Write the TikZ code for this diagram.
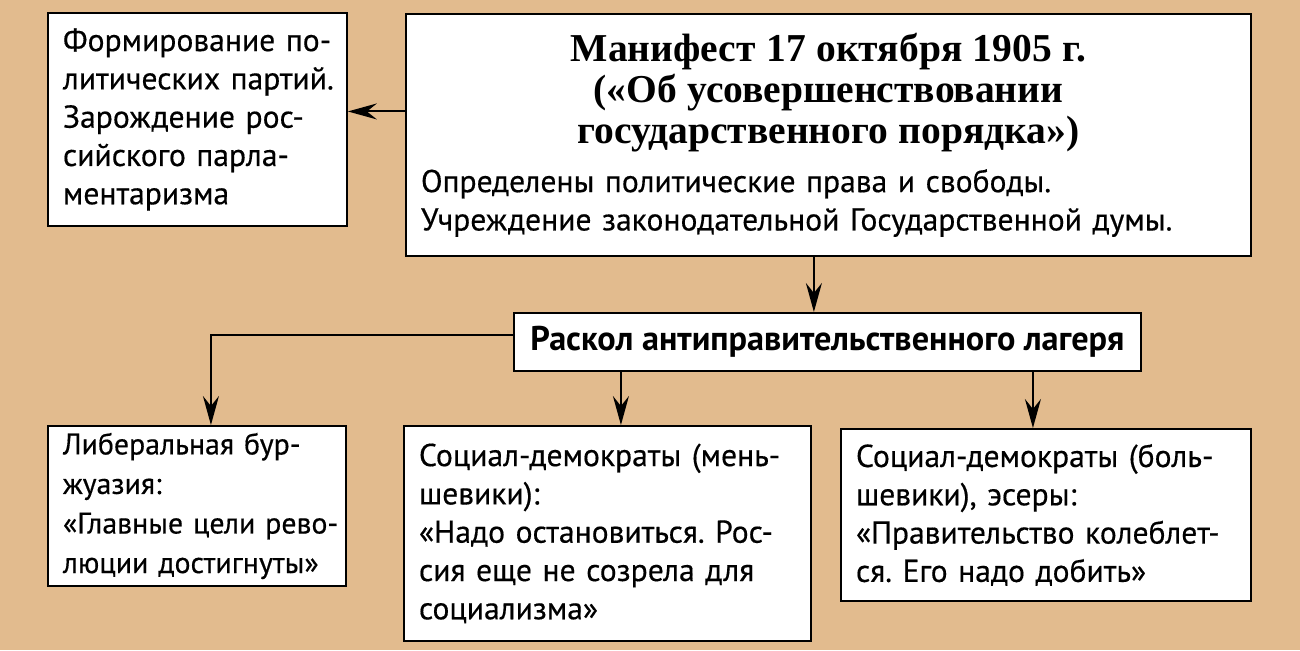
\documentclass[tikz,border=0pt]{standalone}
\usepackage{fontspec}
\setmainfont{PT Sans}[UprightFeatures={FakeBold=0.4}]
\newfontfamily\titlefnt{Liberation Serif}
\usepackage{xcolor}
\usetikzlibrary{arrows.meta,positioning}
\definecolor{tanbg}{RGB}{226,187,142}

\begin{document}
\begin{tikzpicture}[
  x=0.02cm, y=-0.02cm,
  box/.style={draw, line width=1.1pt, fill=white, anchor=north west, align=left,
    font=\fontsize{18}{21.8}\selectfont\frenchspacing, inner xsep=0.3cm, inner ysep=0pt},
  arr/.style={-{Stealth[length=5.8mm, width=3.2mm, inset=2mm]}, line width=1.1pt}]
\fill[tanbg] (0,0) rectangle (1300,650);
\useasboundingbox (0,0) rectangle (1300,650);
% upper row
\node[box, text width=5.38cm, minimum width=5.98cm, minimum height=4.26cm] (parl) at (47,12)
  {Формирование по-\\\mbox{литических партий.}\\Зарождение рос-\\сийского парла-\\ментаризма};
\node[box, text width=16.3cm, minimum width=16.9cm, minimum height=4.84cm] (manif) at (405,13)
  {{\centering\titlefnt\bfseries\fontsize{22.5}{23.5}\selectfont Манифест 17 октября 1905 г.\\
  («Об усовершенствовании\\ государственного порядка»)\par}\vspace{0.2cm}
  Определены политические права и свободы.\\
  Учреждение законодательной Государственной думы.};
\node[box, font=\bfseries\fontsize{19.5}{21.8}\selectfont, align=center, minimum width=12.54cm,
  minimum height=1.16cm] (raskol) at (513,312) {Раскол антиправительственного лагеря};
% lower row
\node[box, font=\fontsize{17}{22.5}\selectfont\frenchspacing, text width=5.36cm, minimum width=5.96cm,
  minimum height=3.2cm] (lib) at (47,425)
  {Либеральная бур-\\жуазия:\\\mbox{«Главные цели рево-}\\\mbox{люции достигнуты»}};
\node[box, text width=7.54cm, minimum width=8.14cm, minimum height=4.3cm] (mensh) at (403,425)
  {\mbox{Социал-демократы (мень-}\\шевики):\\\mbox{«Надо остановиться. Рос-}\\сия еще не созрела для\\социализма»};
\node[box, text width=7.6cm, minimum width=8.2cm, minimum height=3.44cm] (bolsh) at (840,428)
  {\mbox{Социал-демократы (боль-}\\шевики), эсеры:\\\mbox{«Правительство колеблет-}\\ся. Его надо добить»};
% connectors
\draw[arr] ([yshift=0.16cm]parl.east -| manif.west) -- ([yshift=0.16cm]parl.east);
\draw[arr] ([xshift=-0.29cm]manif.south) -- ([xshift=-0.29cm]manif.south |- raskol.north);
\draw[arr] ([yshift=0.14cm]raskol.west) -| ([xshift=0.28cm]lib.north);
\draw[arr] ([xshift=0.27cm]mensh.north |- raskol.south) -- ([xshift=0.27cm]mensh.north);
\draw[arr] ([xshift=-0.26cm]bolsh.north |- raskol.south) -- ([xshift=-0.26cm]bolsh.north);
\end{tikzpicture}
\end{document}
